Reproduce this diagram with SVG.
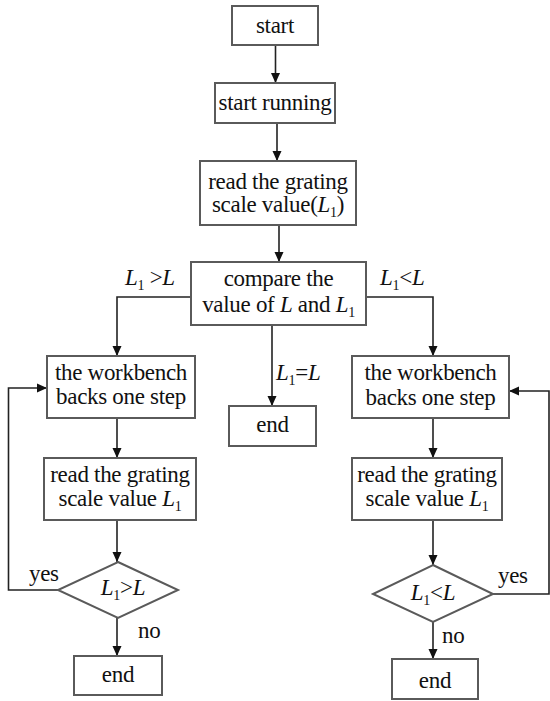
<svg xmlns="http://www.w3.org/2000/svg" width="550" height="701" viewBox="0 0 550 701">
  <style>
    .box { fill: #ffffff; stroke: #5a5a5a; stroke-width: 2; }
    .edge { fill: none; stroke: #222222; stroke-width: 1.6; }
    text { font-family: "Liberation Serif", "Times New Roman", serif; font-size: 23px; letter-spacing: -0.3px; fill: #111111; }
    .c { text-anchor: middle; }
    .i { font-style: italic; }
    .s { font-size: 14px; }
  </style>
  <defs>
    <marker id="arrow" markerUnits="userSpaceOnUse" markerWidth="10" markerHeight="10" refX="10" refY="5" orient="auto">
      <path d="M0,0.5 L10,5 L0,9.5 z" fill="#111111"/>
    </marker>
  </defs>
  <rect width="550" height="701" fill="#ffffff"/>

  <!-- connectors -->
  <g id="connectors" class="edge" marker-end="url(#arrow)">
    <path d="M275.5,45 V83"/>
    <path d="M277,123 V161"/>
    <path d="M279,225 V262"/>
    <path d="M191,297 H117 V356"/>
    <path d="M366,297 H433 V356"/>
    <path d="M272,325 V406"/>
    <path d="M117,418 V458"/>
    <path d="M433,418 V458"/>
    <path d="M117,520 V562"/>
    <path d="M433,520 V565"/>
    <path d="M117,618 V656"/>
    <path d="M433,622 V659"/>
    <path d="M58,590 H8.5 V388 H47"/>
    <path d="M493,594 H549 V391 H509"/>
  </g>

  <!-- edge labels -->
  <g id="edge-labels">
    <text x="125" y="285"><tspan class="i">L</tspan><tspan class="s" dy="5">1</tspan><tspan dy="-5"> &gt;</tspan><tspan class="i">L</tspan></text>
    <text x="380" y="285"><tspan class="i">L</tspan><tspan class="s" dy="5">1</tspan><tspan dy="-5">&lt;</tspan><tspan class="i">L</tspan></text>
    <text x="276" y="380"><tspan class="i">L</tspan><tspan class="s" dy="5">1</tspan><tspan dy="-5">=</tspan><tspan class="i">L</tspan></text>
    <text x="29" y="581">yes</text>
    <text x="138" y="638">no</text>
    <text x="498" y="583">yes</text>
    <text x="442" y="643">no</text>
  </g>

  <g id="start">
    <rect class="box" x="232" y="6" width="86" height="39"/>
    <text class="c" x="275" y="32.5">start</text>
  </g>
  <g id="start-running">
    <rect class="box" x="215" y="83" width="120" height="40"/>
    <text class="c" x="275" y="110">start running</text>
  </g>
  <g id="read-initial">
    <rect class="box" x="200" y="161" width="156" height="64"/>
    <text class="c" x="278" y="188.5">read the grating</text>
    <text class="c" x="278" y="211.5">scale value(<tspan class="i">L</tspan><tspan class="s" dy="5">1</tspan><tspan dy="-5">)</tspan></text>
  </g>
  <g id="compare">
    <rect class="box" x="191" y="262" width="175" height="63"/>
    <text class="c" x="278.5" y="286">compare the</text>
    <text class="c" x="278.5" y="312">value of <tspan class="i">L</tspan> and <tspan class="i">L</tspan><tspan class="s" dy="5">1</tspan></text>
  </g>
  <g id="end-equal">
    <rect class="box" x="229" y="406" width="87" height="40"/>
    <text class="c" x="272.5" y="432">end</text>
  </g>

  <!-- left branch -->
  <g id="back-left">
    <rect class="box" x="47" y="356" width="148" height="62"/>
    <text class="c" x="121" y="380">the workbench</text>
    <text class="c" x="121" y="404">backs one step</text>
  </g>
  <g id="read-left">
    <rect class="box" x="44" y="458" width="152" height="62"/>
    <text class="c" x="120" y="482">read the grating</text>
    <text class="c" x="120" y="506">scale value <tspan class="i">L</tspan><tspan class="s" dy="5">1</tspan></text>
  </g>
  <g id="check-left">
    <polygon class="box" points="118,562 178,590 118,618 58,590"/>
    <text class="c" x="123" y="595"><tspan class="i">L</tspan><tspan class="s" dy="5">1</tspan><tspan dy="-5">&gt;</tspan><tspan class="i">L</tspan></text>
  </g>
  <g id="end-left">
    <rect class="box" x="74" y="656" width="88" height="39"/>
    <text class="c" x="118" y="682">end</text>
  </g>

  <!-- right branch -->
  <g id="back-right">
    <rect class="box" x="352" y="356" width="157" height="62"/>
    <text class="c" x="430.5" y="380">the workbench</text>
    <text class="c" x="430.5" y="405">backs one step</text>
  </g>
  <g id="read-right">
    <rect class="box" x="352" y="458" width="150" height="62"/>
    <text class="c" x="427" y="482">read the grating</text>
    <text class="c" x="427" y="506">scale value <tspan class="i">L</tspan><tspan class="s" dy="5">1</tspan></text>
  </g>
  <g id="check-right">
    <polygon class="box" points="433,565 493,594 433,622 373,594"/>
    <text class="c" x="433" y="600"><tspan class="i">L</tspan><tspan class="s" dy="5">1</tspan><tspan dy="-5">&lt;</tspan><tspan class="i">L</tspan></text>
  </g>
  <g id="end-right">
    <rect class="box" x="392" y="659" width="86" height="40"/>
    <text class="c" x="435" y="688">end</text>
  </g>
</svg>
